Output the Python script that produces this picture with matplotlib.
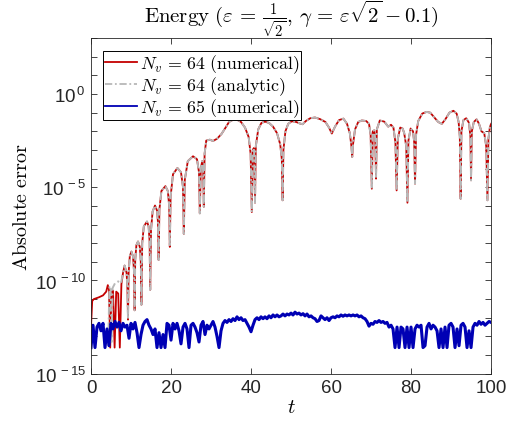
import numpy as np
import matplotlib
matplotlib.use("Agg")
import matplotlib.pyplot as plt
from matplotlib.ticker import NullFormatter

plt.rcParams["font.family"] = ["Liberation Sans", "DejaVu Sans"]
plt.rcParams["mathtext.fontset"] = "cm"

# all errors stored as log10(|error|)
red_early_t = [0.0, 0.3, 0.7, 2.0, 3.0, 3.8, 4.2, 4.5, 4.8, 5.1, 5.5, 5.9,
               6.3, 6.8, 7.2, 7.6, 8.0]
red_early = [-12.5, -11.1, -11.0, -10.9, -10.8, -10.6, -10.25, -10.5, -13.6,
             -10.6, -10.55, -13.6, -10.6, -10.7, -13.6, -10.2, -9.6]

gray_early_t = [4.3, 4.6, 4.9, 5.1, 5.4, 6.0, 6.8, 7.5, 8.0]
gray_early = [-13.5, -10.3, -10.4, -13.4, -10.4, -10.15, -10.05, -10.15, -9.6]

# N_v = 64 from t = 8.4 on (numerical and analytic coincide)
main_t = [
    8.4, 8.9, 9.1, 9.25, 9.4, 9.7, 10.1, 10.5, 10.75, 10.9, 11.05, 11.35,
    11.75, 12.2, 12.45, 12.6, 12.8, 13.2, 14.0, 14.4, 14.65, 14.8, 15.0, 15.4,
    16.0, 16.5, 16.75, 16.9, 17.1, 17.6, 18.6, 19.2, 19.55, 19.7, 19.9, 20.5,
    21.6, 22.5, 23.0, 23.2, 23.45, 24.2, 25.5, 26.5, 27.0, 27.2, 27.45, 27.8,
    28.05, 28.2, 28.4, 28.8, 29.7, 30.5, 31.5, 32.6, 33.5, 34.5, 35.5, 36.4,
    37.5, 38.5, 39.4, 39.9, 40.2, 40.45, 40.7, 40.85, 41.0, 41.2, 41.8, 42.6,
    43.5, 44.5, 45.5, 46.5, 47.3, 47.7, 47.9, 48.1, 48.6, 49.3, 50.2, 51.3,
    52.2, 52.9, 53.7, 54.8, 56.0, 57.3, 58.6, 59.5, 60.2, 61.0, 62.0, 63.1,
    64.0, 64.7, 65.1, 65.3, 65.5, 66.0, 66.8, 67.7, 68.8, 69.5, 69.9, 70.2,
    70.45, 70.8, 71.05, 71.25, 71.45, 72.2, 73.3, 74.3, 75.0, 75.6, 76.1, 76.4,
    76.7, 77.3, 77.9, 78.3, 78.8, 79.1, 79.35, 79.9, 80.5, 80.8, 81.0, 81.25,
    81.8, 82.8, 83.9, 84.8, 85.8, 86.8, 87.7, 88.6, 89.6, 90.6, 91.4, 91.9,
    92.2, 92.4, 92.6, 93.1, 93.8, 94.5, 94.85, 95.0, 95.2, 95.7, 96.4, 97.0,
    97.6, 98.3, 98.8, 99.1, 99.35, 99.7, 100.0,
]
main_err = [
    -9.2, -9.6, -10.4, -12.1, -9.6, -8.7, -8.45, -8.7, -9.5, -11.6, -8.9, -8.1,
    -7.91, -8.2, -9.0, -11.3, -8.0, -7.1, -6.84, -7.1, -7.9, -10.5, -7.3, -6.3,
    -5.98, -6.25, -6.9, -8.9, -6.2, -5.2, -4.94, -5.2, -6.0, -8.2, -5.5, -4.3,
    -3.97, -4.2, -5.0, -7.5, -4.6, -3.6, -3.34, -3.5, -4.2, -6.4, -4.0, -3.6,
    -4.2, -6.05, -3.2, -2.5, -2.45, -2.52, -2.4, -2.15, -1.85, -1.5, -1.38, -1.37,
    -1.5, -1.8, -2.3, -3.2, -6.33, -3.0, -2.9, -3.4, -5.83, -2.8, -1.9, -1.55,
    -1.48, -1.55, -1.75, -2.1, -2.7, -3.5, -5.7, -3.0, -2.0, -1.6, -1.46, -1.5,
    -1.58, -1.62, -1.45, -1.3, -1.26, -1.35, -1.5, -1.8, -2.12, -1.75, -1.4, -1.32,
    -1.6, -2.1, -2.8, -3.38, -2.7, -1.9, -1.5, -1.42, -1.45, -1.6, -2.2, -5.08,
    -2.0, -1.95, -2.4, -4.54, -1.9, -1.42, -1.48, -1.75, -1.65, -1.8, -2.6, -5.17,
    -2.4, -1.8, -1.85, -2.1, -2.8, -5.83, -2.5, -1.85, -2.0, -2.6, -4.81, -2.2,
    -1.45, -1.05, -0.96, -1.0, -1.25, -1.5, -1.6, -1.35, -1.0, -0.9, -1.05, -1.5,
    -2.3, -5.62, -2.0, -1.4, -1.3, -1.55, -2.3, -4.63, -2.0, -1.5, -1.36, -1.6,
    -2.0, -2.1, -2.8, -5.7, -2.4, -1.8, -1.6,
]

# N_v = 65, sampled every 0.5 in t
blue_t = np.arange(0, 100.5, 0.5)
blue_err = [
    -13.6, -12.4, -13.6, -12.5, -12.3, -12.7, -12.3, -13.6, -12.6, -13.5,
    -12.3, -12.6, -12.2, -12.5, -12.25, -12.7, -12.3, -12.5, -12.4, -13.1,
    -12.3, -12.6, -12.25, -12.8, -13.6, -12.9, -12.4, -12.2, -12.1, -12.4,
    -12.6, -12.9, -12.6, -13.6, -12.8, -13.6, -12.9, -13.6, -12.3, -12.4,
    -13.2, -12.3, -12.6, -12.3, -12.7, -13.4, -12.5, -12.3, -12.6, -13.6,
    -12.4, -12.3, -12.5, -12.8, -13.3, -12.4, -12.2, -12.9, -12.4, -12.6,
    -12.4, -12.2, -12.5, -13.0, -13.6, -12.7, -12.3, -12.15, -12.25, -12.1,
    -12.2, -12.05, -12.15, -11.95, -12.1, -12.0, -12.15, -12.1, -12.3, -12.5,
    -12.75, -12.4, -12.1, -12.0, -12.1, -11.95, -12.05, -11.95, -12.05, -11.9,
    -12.0, -11.85, -11.95, -11.85, -11.95, -11.9, -11.8, -11.9, -11.8, -11.85,
    -11.75, -11.85, -11.7, -11.8, -11.75, -11.85, -11.78, -11.9, -11.8, -11.95,
    -11.9, -12.0, -12.05, -12.2, -12.15, -11.9, -12.0, -12.1, -12.0, -12.15,
    -12.0, -11.95, -12.0, -11.9, -11.95, -11.85, -11.92, -11.85, -11.9, -11.85,
    -11.9, -11.85, -11.9, -11.85, -11.95, -11.9, -12.0, -12.05, -12.2, -12.45,
    -12.3, -12.35, -12.2, -12.25, -12.15, -12.25, -12.2, -12.3, -12.25, -12.5,
    -12.4, -12.6, -13.6, -12.5, -13.6, -12.5, -12.6, -13.6, -12.5, -13.6,
    -12.5, -13.6, -12.6, -12.4, -12.5, -12.4, -13.6, -13.5, -12.5, -12.3,
    -12.6, -12.4, -12.5, -12.7, -13.6, -12.6, -13.6, -12.5, -13.6, -12.4,
    -12.3, -12.5, -13.6, -12.6, -13.5, -12.4, -12.3, -12.5, -13.6, -12.7,
    -13.6, -12.5, -12.3, -12.4, -12.2, -12.35, -12.25, -12.4, -12.3, -12.2,
    -12.25,
]

labels = [r"$N_v\,=\,64\ \mathrm{(numerical)}$",
          r"$N_v\,=\,64\ \mathrm{(analytic)}$",
          r"$N_v\,=\,65\ \mathrm{(numerical)}$"]

red_t = np.concatenate([red_early_t, main_t])
red_y = 10.0 ** np.concatenate([red_early, main_err])
gray_t = np.concatenate([gray_early_t, main_t])
gray_y = 10.0 ** np.concatenate([gray_early, main_err])

fig = plt.figure(figsize=(5.07, 4.27), dpi=100)
ax = fig.add_axes([0.1795, 0.1225, 0.789, 0.786])

ax.semilogy(red_t, red_y, color="#c40000", lw=1.3, label=labels[0])
ax.semilogy(gray_t, gray_y, color="#b8b8b8", lw=1.4,
            linestyle=(0, (4, 1.5, 1, 1.5)), label=labels[1])
ax.semilogy(blue_t, 10.0 ** np.array(blue_err), color="#0000b4", lw=2.2,
            label=labels[2])

ax.set_xlim(0, 100)
ax.set_ylim(1e-15, 1e3)
ax.set_xticks([0, 20, 40, 60, 80, 100])
ax.set_yticks([1e-15, 1e-10, 1e-5, 1e0],
              [r"$\mathregular{10^{\,-15}}$", r"$\mathregular{10^{\,-10}}$",
               r"$\mathregular{10^{\,-5}}$", r"$\mathregular{10^{\,0}}$"])
ax.set_yticks([10.0 ** k for k in range(-15, 4)], minor=True)
ax.yaxis.set_minor_formatter(NullFormatter())
ax.tick_params(which="both", direction="in", top=True, right=True,
               labelsize=13.5, color="#262626", labelcolor="#262626",
               width=0.6, length=4)
for s in ax.spines.values():
    s.set_linewidth(0.6)
    s.set_color("#262626")

ax.set_title(r"$\mathrm{Energy}\ (\varepsilon\,=\,\frac{1}{\sqrt{2}},\, "
             r"\gamma\,=\,\varepsilon\sqrt{2} - 0.1)$", fontsize=15, pad=6)
ax.set_xlabel(r"$t$", fontsize=15, labelpad=1)
ax.set_ylabel(r"$\mathrm{Absolute\ error}$", fontsize=14.5, labelpad=3)

leg = ax.legend(loc="upper left", fontsize=12.8, fancybox=False, framealpha=1,
                edgecolor="black", handlelength=1.8, handletextpad=0.15,
                borderpad=0.1, labelspacing=-0.05, borderaxespad=0.7)
leg.get_frame().set_linewidth(0.7)
for h in leg.get_lines():
    h.set_linewidth(1.3)

fig.savefig("out.png", dpi=100)
